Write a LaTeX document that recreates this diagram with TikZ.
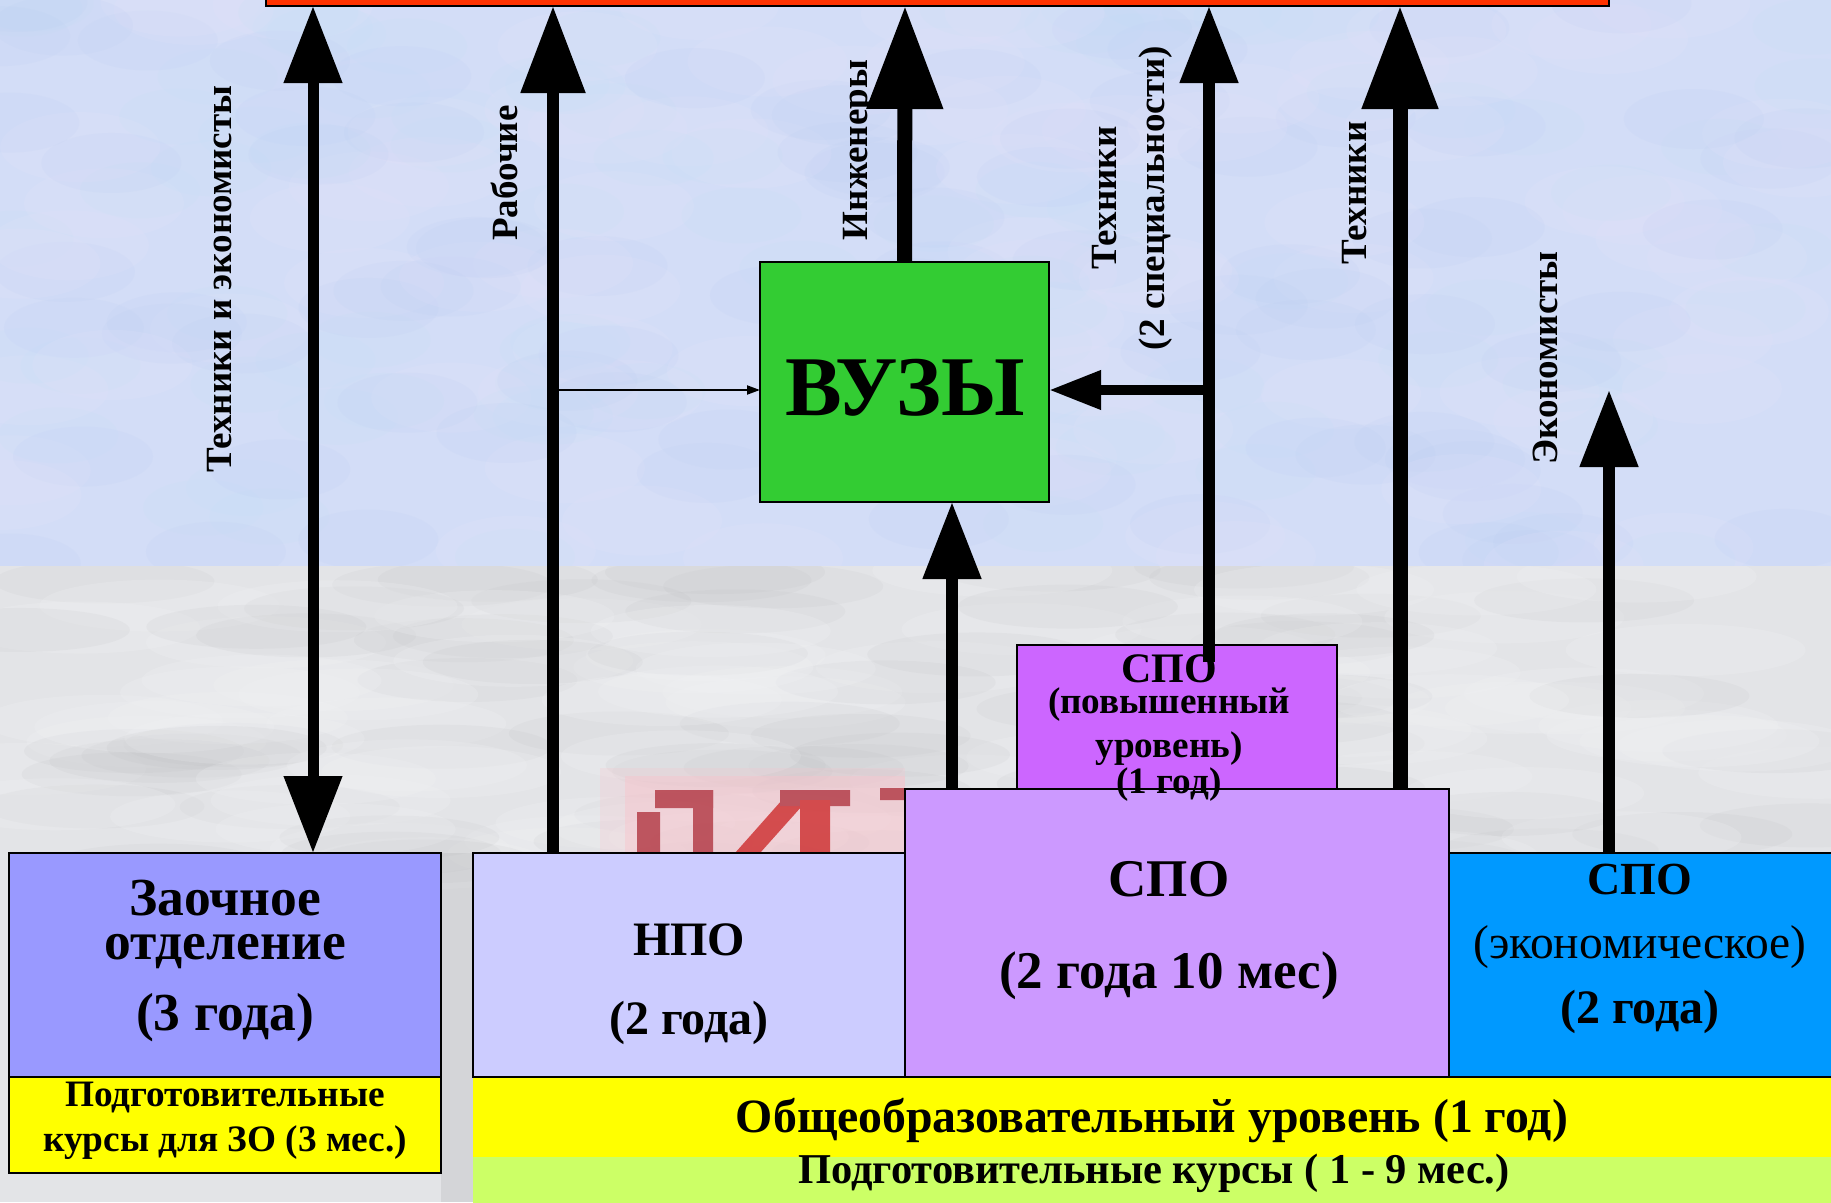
\documentclass[tikz,border=0pt]{standalone}
\usepackage{fontspec}
\setmainfont{Liberation Serif}
\usetikzlibrary{arrows.meta}
\definecolor{barred}{HTML}{FF3300}
\definecolor{vuzgreen}{HTML}{33CC33}
\definecolor{zoblue}{HTML}{9999FF}
\definecolor{npocol}{HTML}{CCCCFF}
\definecolor{spocol}{HTML}{CC99FF}
\definecolor{spohicol}{HTML}{CC66FF}
\definecolor{spoeccol}{HTML}{0099FF}
\definecolor{yel}{HTML}{FFFF00}
\definecolor{lgreen}{HTML}{CCFF66}
\definecolor{bgtop}{HTML}{D3DDF7}
\definecolor{bgbot}{HTML}{E3E4E7}
\definecolor{spotA}{HTML}{B4C8EE}
\definecolor{spotB}{HTML}{E6E4FC}
\definecolor{spotC}{HTML}{C0DEF6}
\definecolor{grayA}{HTML}{B4B5B8}
\definecolor{grayB}{HTML}{F2F3F5}
\definecolor{logopink}{HTML}{F8C4CC}
\definecolor{logored}{HTML}{A8202C}
\definecolor{logored2}{HTML}{C81414}
\newcommand\setfs[2]{\fontsize{#1}{#2}\selectfont}
\begin{document}
\begin{tikzpicture}[x=1pt,y=-1pt,
  box/.style={draw=black, line width=2pt, inner sep=0pt, outer sep=0pt, anchor=north west},
  plain/.style={inner sep=0pt, outer sep=0pt, anchor=north west},
  txt/.style={inner sep=0pt, outer sep=0pt, anchor=base, font=\bfseries},
  lbl/.style={inner sep=0pt, outer sep=0pt, anchor=base, rotate=90, font=\bfseries\setfs{37}{44}},
  arrS/.style={line width=11.5pt, -{Triangle[length=77pt,width=56pt]}},
  arrM/.style={line width=12pt, -{Triangle[length=87pt,width=62pt]}},
  arrL/.style={line width=15pt, -{Triangle[length=103pt,width=73pt]}},
]
\useasboundingbox (0,0) rectangle (1831,1202);
% ---------- background ----------
\fill[bgtop] (0,0) rectangle (1831,566);
\begin{scope}
\clip (0,0) rectangle (1831,566);
\pgfmathsetseed{11}
\foreach \i in {1,...,260}{
  \pgfmathsetmacro\xx{rnd*1831}
  \pgfmathsetmacro\yy{rnd*566}
  \pgfmathsetmacro\kk{int(mod(\i,3))}
  \ifnum\kk=0 \fill[spotA,opacity=0.10] (\xx,\yy) ellipse (70 and 30);\fi
  \ifnum\kk=1 \fill[spotB,opacity=0.16] (\xx,\yy) ellipse (80 and 35);\fi
  \ifnum\kk=2 \fill[spotC,opacity=0.12] (\xx,\yy) ellipse (60 and 28);\fi
}
\end{scope}
\fill[bgbot] (0,566) rectangle (1831,1202);
\begin{scope}
\clip (0,566) rectangle (1831,1202);
\pgfmathsetseed{5}
\foreach \i in {1,...,160}{
  \pgfmathsetmacro\xx{rnd*1831}
  \pgfmathsetmacro\yy{566+rnd*300}
  \pgfmathsetmacro\kk{int(mod(\i,2))}
  \ifnum\kk=0 \fill[grayA,opacity=0.10] (\xx,\yy) ellipse (110 and 22);\fi
  \ifnum\kk=1 \fill[grayB,opacity=0.22] (\xx,\yy) ellipse (120 and 26);\fi
}
\fill[grayA,opacity=0.30] (441,853) rectangle (473,1202);
\end{scope}
% ---------- background logo fragment ----------
\fill[logopink,opacity=0.25] (600,768) rectangle (905,853);
\fill[logopink,opacity=0.45] (625,776) rectangle (905,853);
\begin{scope}[transparency group, opacity=0.7]
\fill[logored] (637,812) rectangle (660,853);
\fill[logored] (655,790) rectangle (713,808);
\fill[logored] (693,790) rectangle (713,853);
\fill[logored2] (735,853) -- (760,853) -- (802,806) -- (782,800) -- cycle;
\fill[logored] (780,790) rectangle (850,806);
\fill[logored2] (800,800) rectangle (830,853);
\fill[logored] (880,788) rectangle (905,800);
\end{scope}
% ---------- borderless bars ----------
\node[plain, fill=yel, minimum width=1358pt, minimum height=80pt] (gen) at (473,1077) {};
\node[plain, fill=lgreen, minimum width=1358pt, minimum height=50pt] (prep) at (473,1157) {};
% ---------- boxes ----------
\node[box, fill=barred, minimum width=1343pt, minimum height=40pt] (bar) at (266,-34) {};
\node[box, fill=vuzgreen, minimum width=289pt, minimum height=240pt] (vuz) at (760,262) {};
\node[box, fill=zoblue, minimum width=432pt, minimum height=224pt] (zo) at (9,853) {};
\node[box, fill=yel, minimum width=432pt, minimum height=96pt] (zoprep) at (9,1077) {};
\node[box, fill=npocol, minimum width=432pt, minimum height=224pt] (npo) at (473,853) {};
\node[box, fill=spohicol, minimum width=320pt, minimum height=144pt] (spohi) at (1017,645) {};
\node[box, fill=spocol, minimum width=544pt, minimum height=288pt] (spo) at (905,789) {};
\node[box, fill=spoeccol, minimum width=400pt, minimum height=224pt] (spoec) at (1449,853) {};
% ---------- arrow coordinates ----------
\coordinate (c1) at (313,6);
\coordinate (c2) at (553,6);
\coordinate (c3) at (905,6);
\coordinate (c4) at (1209,6);
\coordinate (c5) at (1400,6);
\coordinate (c6) at (1609,390);
\coordinate (c7) at (952,502);
\coordinate (jr) at (553,390);
\coordinate (jt) at (1209,390);
\coordinate (t2end) at (1209,662);
% ---------- arrows ----------
\draw[line width=11pt, {Triangle[length=77pt,width=56pt]}-{Triangle[length=77pt,width=56pt]}] (c1) -- (c1 |- zo.north);
\draw[arrM] (c2 |- npo.north) -- (c2);
\draw[line width=2pt, -{Triangle[length=13pt,width=9pt]}] (jr) -- (jr -| vuz.west);
\draw[arrL] (vuz.north) -- (c3);
\draw[arrS] (c7 |- spo.north) -- (c7);
\draw[arrS] (t2end) -- (c4);
\draw[line width=10pt, -{Triangle[length=52pt,width=37pt]}] (jt) -- (jt -| vuz.east);
\draw[arrL] (c5 |- spo.north) -- (c5);
\draw[arrS] (c6 |- spoec.north) -- (c6);
% ---------- arrow labels ----------
\node[lbl] (l1) at (231,279) {Техники и экономисты};
\node[lbl] (l2) at (517,173) {Рабочие};
\node[lbl] (l3) at (867,150) {Инженеры};
\node[lbl] (l4a) at (1116,198) {Техники};
\node[lbl] (l4b) at (1164,198) {(2 специальности)};
\node[lbl] (l5) at (1366,193) {Техники};
\node[lbl] (l6) at (1557,358) {Экономисты};
% ---------- box texts ----------
\node[txt, font=\bfseries\setfs{85}{90}] (vuzt) at (905,415) {ВУЗЫ};
\node[txt, font=\bfseries\setfs{53.5}{50}] (zot1) at (225,915) {Заочное};
\node[txt, font=\bfseries\setfs{53.5}{50}] (zot2) at (225,959) {отделение};
\node[txt, font=\bfseries\setfs{53.5}{50}] (zot3) at (225,1030) {(3 года)};
\node[txt, font=\bfseries\setfs{37.3}{40}] (zpt1) at (225,1106) {Подготовительные};
\node[txt, font=\bfseries\setfs{37.3}{40}] (zpt2) at (225,1151) {курсы для ЗО (3 мес.)};
\node[txt, font=\bfseries\setfs{48}{50}] (npot1) at (689,955) {НПО};
\node[txt, font=\bfseries\setfs{48}{50}] (npot2) at (689,1034) {(2 года)};
\node[txt, font=\bfseries\setfs{53}{55}] (spot1) at (1169,896) {СПО};
\node[txt, font=\bfseries\setfs{53}{55}] (spot2) at (1169,988) {(2 года 10 мес)};
\node[txt, font=\bfseries\setfs{42}{44}] (sht1) at (1169,682) {СПО};
\node[txt, font=\bfseries\setfs{37.2}{44}] (sht2) at (1169,713) {(повышенный};
\node[txt, font=\bfseries\setfs{37.2}{44}] (sht3) at (1169,757) {уровень)};
\node[txt, font=\bfseries\setfs{37.2}{44}] (sht4) at (1169,793) {(1 год)};
\node[txt, font=\bfseries\setfs{46}{50}] (set1) at (1640,894) {СПО};
\node[txt, font=\mdseries\setfs{47.5}{50}] (set2) at (1640,958) {(экономическое)};
\node[txt, font=\bfseries\setfs{48}{50}] (set3) at (1640,1023) {(2 года)};
\node[txt, font=\bfseries\setfs{47.8}{50}] (gent) at (1152,1132) {Общеобразовательный уровень (1 год)};
\node[txt, font=\bfseries\setfs{42.5}{44}] (prept) at (1154,1183) {Подготовительные курсы ( 1 - 9 мес.)};
\end{tikzpicture}
\end{document}
